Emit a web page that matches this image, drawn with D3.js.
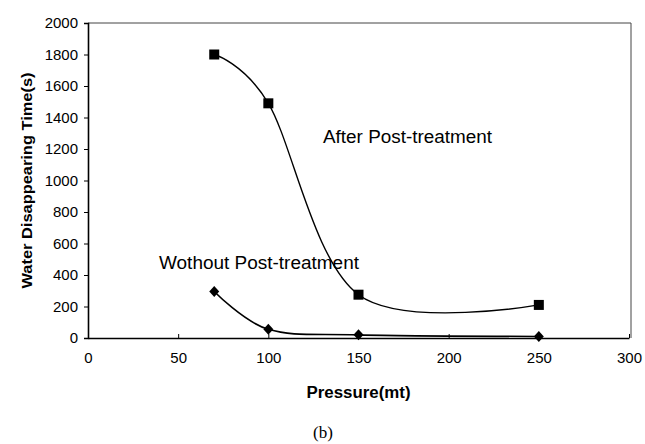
<!DOCTYPE html>
<html><head><meta charset="utf-8">
<script src="https://cdn.jsdelivr.net/npm/d3@7/dist/d3.min.js"></script>
<style>
html,body{margin:0;padding:0;background:#fff;}
svg{display:block;}
text{font-family:Arial,"Liberation Sans",Helvetica,sans-serif;fill:#000;}
</style></head>
<body>
<svg id="chart" width="645" height="444"></svg>
<script>
const pressure = [70, 100, 150, 250];
const afterTreatment = [1800, 1490, 275, 210];
const withoutTreatment = [295, 55, 20, 10];
const xTicks = [0, 50, 100, 150, 200, 250, 300];
const yTicks = [0, 200, 400, 600, 800, 1000, 1200, 1400, 1600, 1800, 2000];
const xTitle = "Pressure(mt)";
const yTitle = "Water Disappearing Time(s)";
const afterLabel = "After Post-treatment";
const withoutLabel = "Wothout Post-treatment";
const caption = "(b)";

const svg = d3.select("#chart");
const x = d3.scaleLinear().domain([0, 300]).range([88, 629]);
const y = d3.scaleLinear().domain([0, 2000]).range([338, 23]);

// frame (top/right)
svg.append("path")
  .attr("d", `M${x(0)},${y(2000)}H${x(300)+2}V${y(0)}`)
  .attr("fill","none").attr("stroke","#444").attr("stroke-width",1);

// y axis
const yAxis = svg.append("g").attr("transform",`translate(${x(0)},0)`)
  .call(d3.axisLeft(y).tickValues(yTicks).tickSize(4).tickPadding(6).tickFormat(d3.format("d")));
yAxis.select(".domain").attr("stroke","#000").attr("stroke-width",1.6);
yAxis.selectAll(".tick line").attr("stroke","#000");
yAxis.selectAll(".tick text").style("font-size","15px").style("font-family","Arial,'Liberation Sans',sans-serif").attr("fill","#000");

// x axis
const xAxis = svg.append("g").attr("transform",`translate(0,${y(0)})`)
  .call(d3.axisBottom(x).tickValues(xTicks).tickSizeInner(-4).tickSizeOuter(0).tickPadding(14).tickFormat(d3.format("d")));
xAxis.select(".domain").attr("stroke","#000").attr("stroke-width",1.6);
xAxis.selectAll(".tick line").attr("stroke","#000");
xAxis.selectAll(".tick text").style("font-size","15px").style("font-family","Arial,'Liberation Sans',sans-serif").attr("fill","#000");

const line = d3.line().x(d=>x(d[0])).y(d=>y(d[1])).curve(d3.curveCardinal.tension(0));
const afterData = pressure.map((p,i)=>[p, afterTreatment[i]]);
const withoutData = pressure.map((p,i)=>[p, withoutTreatment[i]]);

svg.append("path").attr("d", line(afterData)).attr("fill","none").attr("stroke","#000").attr("stroke-width",1.4);
svg.append("path").attr("d", line(withoutData)).attr("fill","none").attr("stroke","#000").attr("stroke-width",1.6);

svg.selectAll(".sq").data(afterData).enter().append("rect")
  .attr("x", d=>x(d[0])-5).attr("y", d=>y(d[1])-5).attr("width",10).attr("height",10).attr("fill","#000");
svg.selectAll(".dm").data(withoutData).enter().append("path")
  .attr("d", d=>`M${x(d[0])},${y(d[1])-5.5}L${x(d[0])+5},${y(d[1])}L${x(d[0])},${y(d[1])+5.5}L${x(d[0])-5},${y(d[1])}Z`)
  .attr("fill","#000");

svg.append("text").attr("x",323).attr("y",143).attr("textLength",169).attr("lengthAdjust","spacingAndGlyphs")
  .style("font-size","17.5px").text(afterLabel);
svg.append("text").attr("x",159).attr("y",269).attr("textLength",200).attr("lengthAdjust","spacingAndGlyphs")
  .style("font-size","17.5px").text(withoutLabel);

svg.append("text").attr("x", (x(0)+x(300))/2).attr("y",398).attr("text-anchor","middle")
  .style("font-size","16px").style("font-weight","bold").attr("textLength",104).attr("lengthAdjust","spacingAndGlyphs").text(xTitle);
svg.append("text").attr("transform",`translate(32,${(y(0)+y(2000))/2}) rotate(-90)`).attr("text-anchor","middle")
  .style("font-size","15px").style("font-weight","bold").attr("textLength",216).attr("lengthAdjust","spacingAndGlyphs").text(yTitle);
svg.append("text").attr("x",323).attr("y",438).attr("text-anchor","middle")
  .style("font-family","'Times New Roman','Liberation Serif',serif").style("font-size","17px").text(caption);
</script>
</body></html>
